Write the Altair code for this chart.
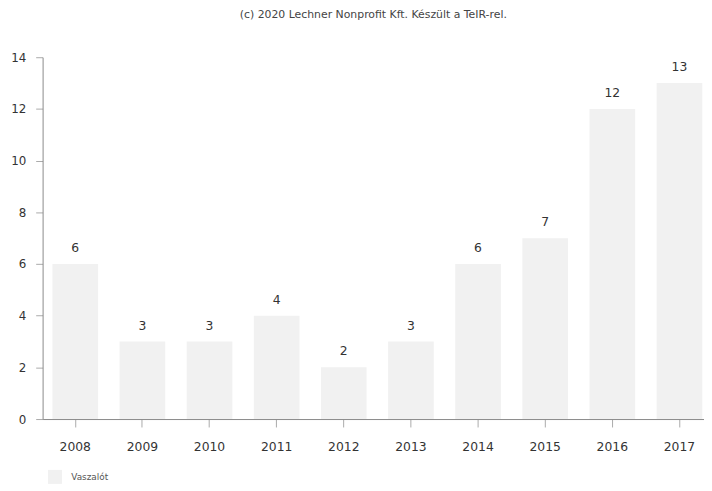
import altair as alt
import pandas as pd

years = ["2008", "2009", "2010", "2011", "2012", "2013", "2014", "2015", "2016", "2017"]
values = [6, 3, 3, 4, 2, 3, 6, 7, 12, 13]
series = ["Vaszalót"] * len(years)

df = pd.DataFrame({"year": years, "value": values, "series": series})

font = "DejaVu Sans"

base = alt.Chart(df).encode(
    x=alt.X("year:N", sort=years, title=None,
            scale=alt.Scale(paddingInner=0.32, paddingOuter=0.086, align=0.85),
            axis=alt.Axis(labelAngle=0, labelFont=font, labelFontSize=12.5, labelColor="#333333",
                          domainColor="#8a8a8a", tickColor="#aaaaaa", tickSize=8,
                          labelPadding=14, grid=False)),
    y=alt.Y("value:Q", title=None,
            scale=alt.Scale(domain=[0, 14], nice=False),
            axis=alt.Axis(values=[0, 2, 4, 6, 8, 10, 12, 14], labelFont=font, labelFontSize=12,
                          labelColor="#333333", domainColor="#8a8a8a", tickColor="#aaaaaa",
                          tickSize=7, labelPadding=10, grid=False)),
)

bars = base.mark_bar(opacity=1).encode(
    color=alt.Color("series:N", title=None,
                    scale=alt.Scale(range=["#f1f1f1"]),
                    legend=alt.Legend(orient="none", legendX=5, legendY=417,
                                      symbolType="square", symbolSize=200,
                                      symbolStrokeWidth=0,
                                      labelFont=font, labelFontSize=9, labelColor="#555555",
                                      labelOffset=9))
)

labels = base.mark_text(dy=-9, font=font, fontSize=12.5, color="#333333", baseline="bottom").encode(
    text="value:Q"
)

chart = (bars + labels).properties(
    width=669,
    height=366,
    title=alt.TitleParams("(c) 2020 Lechner Nonprofit Kft. Készült a TeIR-rel.",
                          font=font, fontSize=11, fontWeight="normal", color="#444444",
                          anchor="middle", frame="group", offset=32),
    autosize=alt.AutoSizeParams(type="none"),
    padding={"left": 35, "top": 47, "right": 0, "bottom": 70},
).configure(background="white").configure_view(stroke=None)

chart.save("out.html", embed_options={"renderer": "svg", "actions": False})
